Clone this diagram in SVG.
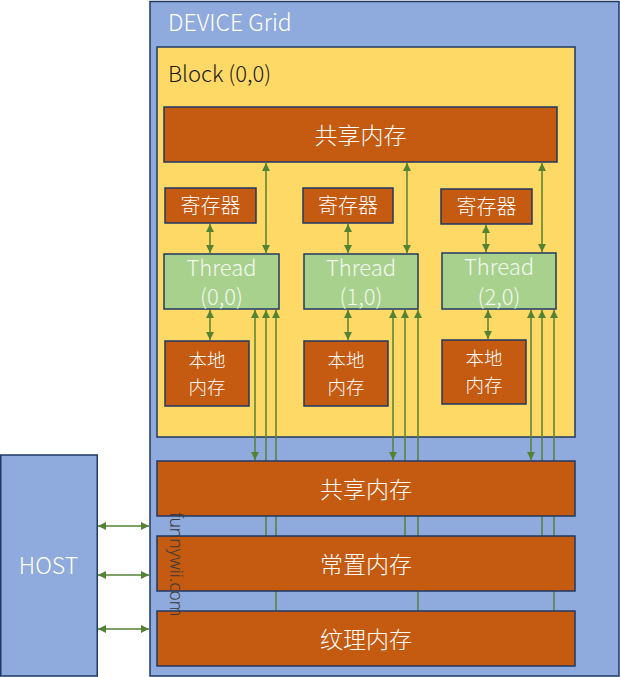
<svg xmlns="http://www.w3.org/2000/svg" width="620" height="677" viewBox="0 0 620 677">
<defs>
<marker id="ah" viewBox="0 0 10 10" refX="10" refY="5" markerWidth="8" markerHeight="8" markerUnits="userSpaceOnUse" orient="auto-start-reverse">
<path d="M0,0 L10,5 L0,10 Z" fill="#548235"/>
</marker>
<style>
text{font-family:"Noto Sans CJK SC","Noto Sans",sans-serif;font-weight:300}
.dev{fill:#8faadc;stroke:#1f3864;stroke-width:1.5}
.blk{fill:#ffd966;stroke:#1f3864;stroke-width:1.5}
.mem{fill:#c55a11;stroke:#1f3864;stroke-width:1.5}
.thr{fill:#a9d18e;stroke:#1f3864;stroke-width:1.5}
.w{fill:#ffffff}
.tw{fill:#f2f8ee}
.c{text-anchor:middle}
.ln{stroke:#548235;stroke-width:1.5;fill:none}
.bi{marker-start:url(#ah);marker-end:url(#ah)}
.st{marker-start:url(#ah)}
.en{marker-end:url(#ah)}
</style>
</defs>
<g id="device">
<rect class="dev" x="150" y="1.5" width="469" height="674.5"/>
<text class="w" x="168" y="31" font-size="23">DEVICE Grid</text>
</g>
<g id="host">
<rect class="dev" x="0.75" y="455" width="96.5" height="221"/>
<text class="w c" x="48.5" y="574" font-size="23">HOST</text>
</g>
<g id="block">
<rect class="blk" x="157" y="47" width="418" height="390"/>
<text x="168" y="82" font-size="22" fill="#1a1a1a">Block (0,0)</text>
</g>
<g id="block-shared">
<rect class="mem" x="164" y="107" width="393" height="55"/>
<text class="w c" x="360.5" y="144" font-size="23">共享内存</text>
</g>
<g id="reg0"><rect class="mem" x="165" y="188" width="91" height="35"/><text class="w c" x="210.5" y="213" font-size="20">寄存器</text></g>
<g id="reg1"><rect class="mem" x="303" y="188" width="90" height="35"/><text class="w c" x="348" y="213" font-size="20">寄存器</text></g>
<g id="reg2"><rect class="mem" x="441" y="189" width="91" height="35"/><text class="w c" x="486.5" y="214" font-size="20">寄存器</text></g>
<g id="thread0"><rect class="thr" x="164" y="254" width="115" height="55"/><text class="tw c" x="221.5" font-size="22"><tspan x="221.5" y="276">Thread</tspan><tspan x="221.5" y="305">(0,0)</tspan></text></g>
<g id="thread1"><rect class="thr" x="304" y="254" width="114" height="55"/><text class="tw c" x="361" font-size="22"><tspan x="361" y="276">Thread</tspan><tspan x="361" y="305">(1,0)</tspan></text></g>
<g id="thread2"><rect class="thr" x="442" y="253" width="114" height="56"/><text class="tw c" x="499" font-size="22"><tspan x="499" y="275">Thread</tspan><tspan x="499" y="305">(2,0)</tspan></text></g>
<g id="local0"><rect class="mem" x="165" y="341" width="84" height="65"/><text class="w c" font-size="18.5"><tspan x="207" y="367">本地</tspan><tspan x="207" y="394">内存</tspan></text></g>
<g id="local1"><rect class="mem" x="304" y="341" width="84" height="65"/><text class="w c" font-size="18.5"><tspan x="346" y="367">本地</tspan><tspan x="346" y="394">内存</tspan></text></g>
<g id="local2"><rect class="mem" x="442" y="340" width="84" height="64"/><text class="w c" font-size="18.5"><tspan x="484" y="365">本地</tspan><tspan x="484" y="392">内存</tspan></text></g>
<g id="connectors">
<line class="ln bi" x1="266" y1="163" x2="266" y2="253"/>
<line class="ln bi" x1="407" y1="163" x2="407" y2="253"/>
<line class="ln bi" x1="542" y1="163" x2="542" y2="252"/>
<line class="ln bi" x1="210" y1="224" x2="210" y2="253"/>
<line class="ln bi" x1="348" y1="224" x2="348" y2="253"/>
<line class="ln bi" x1="486" y1="225" x2="486" y2="252"/>
<line class="ln bi" x1="210" y1="310" x2="210" y2="340"/>
<line class="ln bi" x1="348" y1="310" x2="348" y2="340"/>
<line class="ln bi" x1="488" y1="310" x2="488" y2="339"/>
<line class="ln bi" x1="255" y1="310" x2="255" y2="460"/>
<line class="ln st" x1="266" y1="310" x2="266" y2="536"/>
<line class="ln st" x1="276" y1="310" x2="276" y2="611"/>
<line class="ln bi" x1="393" y1="310" x2="393" y2="460"/>
<line class="ln st" x1="405" y1="310" x2="405" y2="536"/>
<line class="ln st" x1="418" y1="310" x2="418" y2="611"/>
<line class="ln bi" x1="531" y1="310" x2="531" y2="460"/>
<line class="ln st" x1="542" y1="310" x2="542" y2="536"/>
<line class="ln st" x1="554" y1="310" x2="554" y2="611"/>
<line class="ln bi" x1="98" y1="526" x2="149" y2="526"/>
<line class="ln bi" x1="98" y1="575" x2="149" y2="575"/>
<line class="ln bi" x1="98" y1="629" x2="149" y2="629"/>
</g>
<g id="global-shared"><rect class="mem" x="157" y="461" width="418" height="55"/><text class="w c" x="366" y="498" font-size="23">共享内存</text></g>
<g id="constant"><rect class="mem" x="157" y="536" width="418" height="55"/><text class="w c" x="366" y="573" font-size="23">常置内存</text></g>
<g id="texture"><rect class="mem" x="157" y="611" width="418" height="55"/><text class="w c" x="366" y="648" font-size="23">纹理内存</text></g>
<text transform="translate(170,512) rotate(90)" font-size="17.5" fill="#3a3a3a" style="font-family:'Noto Sans',sans-serif">funnywii.com</text>
</svg>
